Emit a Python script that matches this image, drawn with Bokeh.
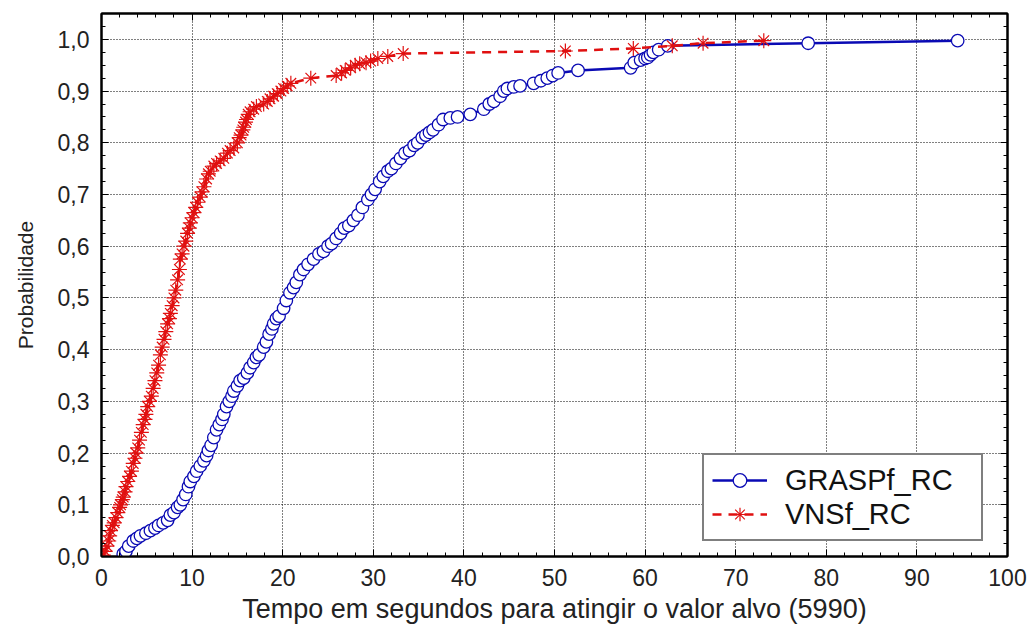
from bokeh.plotting import figure
from bokeh.models import (Range1d, LinearAxis, SingleIntervalTicker, CustomJSTickFormatter,
                          Legend, LegendItem)
from bokeh.embed import file_html
from bokeh.resources import INLINE

# ---------------- data ----------------
grasp_t = [2.4, 2.7, 3.0, 3.5, 3.9, 4.3, 4.9, 5.4, 5.9, 6.3, 6.8, 7.3, 7.6, 8.0, 8.4, 8.7, 9.0, 9.3,
           9.6, 9.8, 10.2, 10.5, 10.9, 11.3, 11.6, 11.8, 12.1, 12.4, 12.7, 13.0, 13.3, 13.5, 13.8,
           14.1, 14.4, 14.6, 15.0, 15.3, 15.7, 16.1, 16.4, 16.8, 17.1, 17.4, 17.9, 18.2, 18.5, 18.8,
           19.0, 19.3, 19.6, 20.1, 20.4, 20.8, 21.2, 21.5, 21.9, 22.3, 22.8, 23.4, 24.0, 24.5, 25.0,
           25.4, 25.9, 26.4, 26.8, 27.3, 27.8, 28.3, 28.8, 29.4, 29.8, 30.2, 30.7, 31.1, 31.6, 32.0,
           32.5, 33.0, 33.5, 34.0, 34.5, 34.9, 35.4, 35.8, 36.2, 36.6, 37.2, 37.7, 38.5, 39.3, 40.7,
           42.2, 42.8, 43.3, 44.0, 44.4, 44.8, 45.5, 46.2, 47.7, 48.5, 49.2, 49.8, 50.4, 52.6, 58.4,
           58.8, 59.5, 60.0, 60.3, 60.6, 60.9, 61.5, 62.5, 78.0, 94.5]
grasp_p = [0.005, 0.01, 0.02, 0.03, 0.035, 0.04, 0.045, 0.05, 0.055, 0.06, 0.065, 0.07, 0.08, 0.085,
           0.095, 0.10, 0.11, 0.12, 0.135, 0.145, 0.155, 0.165, 0.175, 0.185, 0.195, 0.205, 0.215,
           0.23, 0.245, 0.255, 0.265, 0.275, 0.29, 0.30, 0.31, 0.32, 0.33, 0.34, 0.345, 0.355, 0.365,
           0.375, 0.385, 0.39, 0.405, 0.415, 0.43, 0.44, 0.45, 0.46, 0.465, 0.48, 0.495, 0.51, 0.52,
           0.53, 0.545, 0.555, 0.565, 0.575, 0.585, 0.59, 0.60, 0.605, 0.615, 0.625, 0.635, 0.64,
           0.65, 0.66, 0.675, 0.69, 0.70, 0.71, 0.725, 0.735, 0.745, 0.75, 0.76, 0.77, 0.78, 0.785,
           0.795, 0.80, 0.81, 0.815, 0.82, 0.825, 0.835, 0.845, 0.848, 0.85, 0.855, 0.865, 0.875,
           0.88, 0.89, 0.90, 0.905, 0.908, 0.91, 0.915, 0.92, 0.925, 0.93, 0.935, 0.94, 0.945, 0.955,
           0.96, 0.963, 0.965, 0.97, 0.975, 0.98, 0.9875, 0.9925, 0.9975]

vns_t = [0.2, 0.4, 0.6, 0.8, 0.9, 1.0, 1.2, 1.4, 1.6, 1.8, 2.0, 2.1, 2.3, 2.4, 2.6, 2.7, 2.9, 3.1, 3.3,
         3.5, 3.7, 3.8, 4.0, 4.2, 4.4, 4.6, 4.8, 4.9, 5.1, 5.3, 5.5, 5.7, 5.9, 6.1, 6.3, 6.5, 6.7, 6.9,
         7.1, 7.3, 7.5, 7.6, 7.8, 8.0, 8.2, 8.4, 8.6, 8.7, 8.9, 9.1, 9.3, 9.5, 9.7, 9.8, 10.0, 10.2,
         10.4, 10.6, 10.9, 11.1, 11.3, 11.6, 11.8, 12.0, 12.4, 12.7, 13.1, 13.5, 13.9, 14.2, 14.6,
         15.0, 15.2, 15.4, 15.6, 15.7, 15.9, 16.0, 16.2, 16.4, 16.8, 17.1, 17.9, 18.3, 18.6, 19.0,
         19.4, 19.8, 20.1, 20.5, 20.9, 23.1, 25.9, 26.5, 26.9, 27.5, 28.0, 28.5, 29.2, 29.7, 30.5,
         31.6, 33.3, 51.2, 58.7, 63.0, 66.4, 73.1]
vns_p = [0.0025, 0.01, 0.02, 0.03, 0.04, 0.05, 0.06, 0.065, 0.075, 0.085, 0.095, 0.10, 0.11, 0.115,
         0.125, 0.135, 0.145, 0.155, 0.165, 0.18, 0.19, 0.20, 0.21, 0.225, 0.24, 0.255, 0.265, 0.275,
         0.29, 0.30, 0.31, 0.325, 0.34, 0.355, 0.37, 0.39, 0.405, 0.42, 0.435, 0.45, 0.46, 0.47,
         0.485, 0.50, 0.515, 0.535, 0.555, 0.575, 0.585, 0.60, 0.61, 0.625, 0.635, 0.645, 0.655,
         0.665, 0.675, 0.685, 0.695, 0.705, 0.715, 0.73, 0.74, 0.745, 0.755, 0.76, 0.765, 0.77, 0.78,
         0.785, 0.79, 0.80, 0.81, 0.815, 0.825, 0.83, 0.84, 0.845, 0.855, 0.86, 0.865, 0.87, 0.875,
         0.88, 0.885, 0.89, 0.895, 0.90, 0.905, 0.91, 0.915, 0.925, 0.93, 0.935, 0.94, 0.945, 0.95,
         0.953, 0.955, 0.958, 0.963, 0.967, 0.9725, 0.9775, 0.9825, 0.9875, 0.9925, 0.9975]

series_names = ["GRASPf_RC", "VNSf_RC"]
x_title = "Tempo em segundos para atingir o valor alvo (5990)"
y_title = "Probabilidade"

# ---------------- figure ----------------
FONT = "Liberation Sans"
BLUE = "#0a0ab4"
RED = "#e01010"

p = figure(width=1033, height=639, output_backend="svg", toolbar_location=None,
           x_range=Range1d(0, 100), y_range=Range1d(0, 1.05),
           min_border_left=101, min_border_right=26, min_border_top=13, min_border_bottom=83)
p.background_fill_color = "white"
p.border_fill_color = "white"
p.outline_line_color = "black"
p.outline_line_width = 2

xt = SingleIntervalTicker(interval=10, num_minor_ticks=5)
yt = SingleIntervalTicker(interval=0.1, num_minor_ticks=4)
p.xaxis.ticker = xt
p.yaxis.ticker = yt
p.yaxis.formatter = CustomJSTickFormatter(code="return tick.toFixed(1).replace('.', ',');")

for ax in (p.xaxis[0], p.yaxis[0]):
    ax.axis_line_width = 2
    ax.axis_line_color = "black"
    ax.major_tick_in = 7
    ax.major_tick_out = 0
    ax.minor_tick_in = 4
    ax.minor_tick_out = 0
    ax.major_tick_line_color = "black"
    ax.minor_tick_line_color = "black"
    ax.major_label_text_font = FONT
    ax.major_label_text_font_size = "23px"
    ax.major_label_text_color = "#222222"
    ax.axis_label_text_font = FONT
    ax.axis_label_text_font_style = "normal"
    ax.axis_label_text_color = "#222222"

p.xaxis.axis_label = x_title
p.yaxis.axis_label = y_title
p.xaxis.axis_label_text_font_size = "27px"
p.yaxis.axis_label_text_font_size = "21px"
p.xaxis.major_label_standoff = 12
p.yaxis.major_label_standoff = 12
p.xaxis.axis_label_standoff = 5
p.yaxis.axis_label_standoff = 18

# tick marks only (no labels) on the top and right edges
top_ax = LinearAxis(ticker=SingleIntervalTicker(interval=10, num_minor_ticks=5),
                    major_tick_in=7, major_tick_out=0, minor_tick_in=4, minor_tick_out=0,
                    major_label_text_font_size="1px", major_label_text_color=None,
                    major_label_standoff=0, axis_line_width=2)
right_ax = LinearAxis(ticker=SingleIntervalTicker(interval=0.1, num_minor_ticks=4),
                      major_tick_in=7, major_tick_out=0, minor_tick_in=4, minor_tick_out=0,
                      major_label_text_font_size="1px", major_label_text_color=None,
                      major_label_standoff=0, axis_line_width=2)
p.add_layout(top_ax, "above")
p.add_layout(right_ax, "right")

p.grid.grid_line_color = "black"
p.grid.grid_line_dash = "1 2"
p.grid.grid_line_width = 1
p.xgrid.ticker = xt
p.ygrid.ticker = yt

# ---------------- series ----------------
g_line = p.line(grasp_t, grasp_p, line_color=BLUE, line_width=2.5)
g_mark = p.scatter(grasp_t, grasp_p, marker="circle", size=12.5, line_color=BLUE,
                   fill_color="white", line_width=1.3)
v_line = p.line(vns_t, vns_p, line_color=RED, line_width=2.5, line_dash="9 7")
v_mark = p.scatter(vns_t, vns_p, marker="asterisk", size=15, line_color=RED, line_width=1.2)

legend = Legend(items=[LegendItem(label=series_names[0], renderers=[g_line, g_mark]),
                       LegendItem(label=series_names[1], renderers=[v_line, v_mark])],
                location=(601, 15))
legend.border_line_color = "black"
legend.border_line_width = 2
legend.background_fill_color = "white"
legend.background_fill_alpha = 1
legend.label_text_font = FONT
legend.label_text_font_size = "29px"
legend.label_text_color = "#111111"
legend.glyph_width = 55
legend.glyph_height = 34
legend.label_height = 34
legend.label_width = 188
legend.label_standoff = 18
legend.spacing = 0
legend.padding = 8
legend.margin = 0
p.add_layout(legend, "center")

open("out.html", "w").write(file_html(p, INLINE))
